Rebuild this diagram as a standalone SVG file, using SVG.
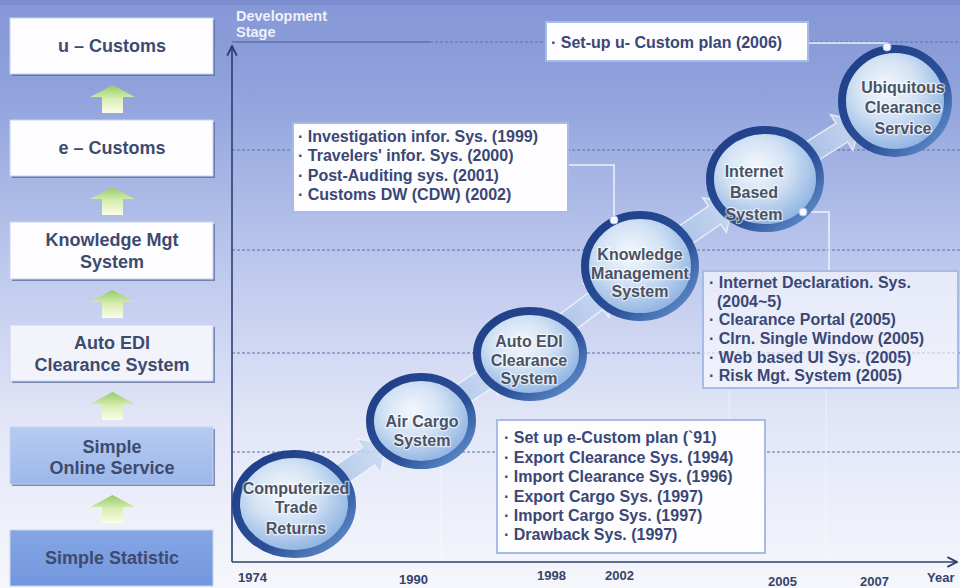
<svg xmlns="http://www.w3.org/2000/svg" width="960" height="588" viewBox="0 0 960 588">
<defs>
<linearGradient id="bg" x1="0" y1="0" x2="0" y2="1">
<stop offset="0" stop-color="#8597d5"/>
<stop offset="0.15" stop-color="#8fa2dc"/>
<stop offset="0.45" stop-color="#bdc8ed"/>
<stop offset="0.72" stop-color="#e2e6f7"/>
<stop offset="1" stop-color="#f6f7fc"/>
</linearGradient>
<radialGradient id="ball" cx="0.42" cy="0.38" r="0.65">
<stop offset="0" stop-color="#f4f8fe"/>
<stop offset="0.45" stop-color="#d2e2f4"/>
<stop offset="1" stop-color="#86ade0"/>
</radialGradient>
<linearGradient id="ring" x1="0" y1="0" x2="1" y2="1">
<stop offset="0" stop-color="#1f3c86"/>
<stop offset="0.6" stop-color="#2a4f98"/>
<stop offset="1" stop-color="#6a9ad4"/>
</linearGradient>
<linearGradient id="garrow" x1="0" y1="0" x2="0" y2="1">
<stop offset="0" stop-color="#94cb66"/>
<stop offset="0.5" stop-color="#d8eeb2"/>
<stop offset="1" stop-color="#fbfde8"/>
</linearGradient>
<linearGradient id="barrow" x1="0" y1="0" x2="1" y2="0">
<stop offset="0" stop-color="#a6c0e6"/>
<stop offset="1" stop-color="#cfdef3"/>
</linearGradient>
<linearGradient id="sos" x1="0" y1="0" x2="0" y2="1">
<stop offset="0" stop-color="#b6cbf2"/>
<stop offset="1" stop-color="#9cb7ea"/>
</linearGradient>
<linearGradient id="sst" x1="0" y1="0" x2="0" y2="1">
<stop offset="0" stop-color="#84a6e6"/>
<stop offset="1" stop-color="#7397dd"/>
</linearGradient>
<path id="big" d="M-38,-11 L14,-11 L14,-21 L36,0 L14,21 L14,11 L-38,11 Z"/>
<path id="up" d="M0,12 L22.5,0 L45,12 L33,12 L33,28 L12,28 L12,12 Z"/>
<marker id="ah" viewBox="0 0 10 10" refX="9" refY="5" markerWidth="12" markerHeight="12" markerUnits="userSpaceOnUse" orient="auto">
<path d="M1,1 L9,5 L1,9" fill="none" stroke="#2b3f70" stroke-width="1.6"/>
</marker>
</defs>
<style>
text{font-family:"Liberation Sans",Arial,sans-serif;font-weight:bold}
.lb{font-size:18px;fill:#3e4a6e;text-anchor:middle}
.ct{font-size:16px;fill:#3b4775}
.cir{font-size:16px;fill:#4a5264;text-anchor:middle;stroke:#ffffff;stroke-width:2.5px;stroke-opacity:0.6;paint-order:stroke}
.yr{font-size:13px;fill:#36436a}
.ax{font-size:14.5px;fill:#eef1fb}
.grid{stroke:#5e6ea6;stroke-width:1;stroke-dasharray:3 2;fill:none}
.box{fill:#fdfdff;stroke:#a7bbe6;stroke-width:2}
.lbox{stroke:#c9d3ef;stroke-width:1}
.shd{fill:#5a6a9a;opacity:0.75}
.conn{stroke:#eef2fb;stroke-width:1.5;fill:none}
.dot{fill:#f4f7fd;stroke:#b5c6ea;stroke-width:1}
.ball{fill:url(#ball);stroke:url(#ring);stroke-width:8}
.ba{fill:url(#barrow);stroke:#eef4fc;stroke-width:1.5;opacity:0.85}
.ga{fill:url(#garrow)}
.vl{stroke:#ffffff;stroke-opacity:0.3;stroke-width:1.5}
</style>

<rect x="0" y="0" width="960" height="588" fill="url(#bg)"/>
<rect x="0" y="0" width="960" height="5" fill="#7c8ecf"/>

<g id="grid">
<line class="vl" x1="441" y1="380" x2="441" y2="560"/>
<line class="vl" x1="729" y1="390" x2="729" y2="560"/>
<line class="vl" x1="826" y1="388" x2="826" y2="560"/>
<line x1="232" y1="42" x2="430" y2="42" stroke="#4a5a90" stroke-width="1"/>
<line class="grid" x1="430" y1="42" x2="960" y2="42"/>
<line class="grid" x1="232" y1="150" x2="960" y2="150"/>
<line class="grid" x1="232" y1="250" x2="960" y2="250"/>
<line class="grid" x1="232" y1="353" x2="960" y2="353"/>
<line class="grid" x1="232" y1="452" x2="960" y2="452"/>
</g>

<g id="axes">
<line x1="232" y1="562" x2="232" y2="46" stroke="#2b3f70" stroke-width="1.6" marker-end="url(#ah)"/>
<line x1="232" y1="562" x2="957" y2="562" stroke="#2b3f70" stroke-width="1.6" marker-end="url(#ah)"/>
<text class="ax" x="236" y="21">Development</text>
<text class="ax" x="236" y="37">Stage</text>
<text class="yr" x="238" y="582">1974</text>
<text class="yr" x="399" y="584">1990</text>
<text class="yr" x="537" y="580">1998</text>
<text class="yr" x="605" y="580">2002</text>
<text class="yr" x="768" y="586">2005</text>
<text class="yr" x="860" y="586">2007</text>
<text class="yr" x="927" y="582">Year</text>
</g>

<g id="connectors">
<use href="#big" class="ba" transform="translate(357,464) rotate(-34.6)"/>
<use href="#big" class="ba" transform="translate(475,386) rotate(-33)"/>
<use href="#big" class="ba" transform="translate(585,309) rotate(-37)"/>
<use href="#big" class="ba" transform="translate(703,223) rotate(-34.3)"/>
<use href="#big" class="ba" transform="translate(830,140) rotate(-32)"/>
<use href="#up" class="ga" transform="translate(90,85)"/>
<use href="#up" class="ga" transform="translate(90,187)"/>
<use href="#up" class="ga" transform="translate(90,290)"/>
<use href="#up" class="ga" transform="translate(90,392)"/>
<use href="#up" class="ga" transform="translate(90,495)"/>
<polyline class="conn" points="808,43 887,43 887,47"/>
<polyline class="conn" points="568,165 614,165 614,219"/>
<polyline class="conn" points="803,212 829,212 829,272"/>
</g>

<g id="n-ucustoms">
<rect class="shd" x="12" y="20" width="203" height="56"/>
<rect class="lbox" x="10" y="18" width="203" height="56" fill="#fdfdff"/>
<text class="lb" x="112" y="52">u – Customs</text>
</g>
<g id="n-ecustoms">
<rect class="shd" x="12" y="122" width="203" height="56"/>
<rect class="lbox" x="10" y="120" width="203" height="56" fill="#fdfdff"/>
<text class="lb" x="112" y="154">e – Customs</text>
</g>
<g id="n-kmgt">
<rect class="shd" x="12" y="224" width="203" height="57"/>
<rect class="lbox" x="10" y="222" width="203" height="57" fill="#fdfdff"/>
<text class="lb" x="112" y="246">Knowledge Mgt</text>
<text class="lb" x="112" y="268">System</text>
</g>
<g id="n-autoedi">
<rect class="shd" x="12" y="327" width="203" height="56"/>
<rect class="lbox" x="10" y="325" width="203" height="56" fill="#f3f4fb"/>
<text class="lb" x="112" y="349">Auto EDI</text>
<text class="lb" x="112" y="371">Clearance System</text>
</g>
<g id="n-online">
<rect class="shd" x="12" y="429" width="203" height="57"/>
<rect class="lbox" x="10" y="427" width="203" height="57" fill="url(#sos)"/>
<text class="lb" x="112" y="453">Simple</text>
<text class="lb" x="112" y="474">Online Service</text>
</g>
<g id="n-statistic">
<rect class="lbox" x="10" y="530" width="203" height="56" fill="url(#sst)"/>
<text class="lb" x="112" y="564">Simple Statistic</text>
</g>

<g id="c-ctr">
<ellipse class="ball" cx="294" cy="504" rx="58" ry="50"/>
<text class="cir" x="296" y="494">Computerized</text>
<text class="cir" x="296" y="513">Trade</text>
<text class="cir" x="296" y="534">Returns</text>
</g>
<g id="c-aircargo">
<ellipse class="ball" cx="421" cy="421" rx="51" ry="44"/>
<text class="cir" x="422" y="427">Air Cargo</text>
<text class="cir" x="422" y="446">System</text>
</g>
<g id="c-autoedi">
<ellipse class="ball" cx="530" cy="354" rx="53" ry="43"/>
<text class="cir" x="529" y="347">Auto EDI</text>
<text class="cir" x="529" y="366">Clearance</text>
<text class="cir" x="529" y="384">System</text>
</g>
<g id="c-kms">
<ellipse class="ball" cx="640" cy="266" rx="55" ry="51"/>
<text class="cir" x="640" y="260">Knowledge</text>
<text class="cir" x="640" y="279">Management</text>
<text class="cir" x="640" y="297">System</text>
</g>
<g id="c-internet">
<ellipse class="ball" cx="765" cy="179" rx="55" ry="49"/>
<text class="cir" x="754" y="177">Internet</text>
<text class="cir" x="754" y="198">Based</text>
<text class="cir" x="754" y="220">System</text>
</g>
<g id="c-ubiq">
<ellipse class="ball" cx="895" cy="101" rx="53" ry="52"/>
<text class="cir" x="903" y="93">Ubiquitous</text>
<text class="cir" x="903" y="113">Clearance</text>
<text class="cir" x="903" y="134">Service</text>
</g>

<g id="b-ucustom">
<rect class="box" x="546" y="22" width="262" height="39"/>
<text class="ct" x="551" y="48">· Set-up u- Custom plan (2006)</text>
<circle class="dot" cx="887" cy="47" r="4"/>
</g>
<g id="b-kms">
<rect class="box" x="293" y="123" width="275" height="89"/>
<text class="ct" x="298" y="142">· Investigation infor. Sys. (1999)</text>
<text class="ct" x="298" y="161">· Travelers' infor. Sys.  (2000)</text>
<text class="ct" x="298" y="181">· Post-Auditing sys. (2001)</text>
<text class="ct" x="298" y="200">· Customs DW (CDW) (2002)</text>
<circle class="dot" cx="614" cy="220" r="4"/>
</g>
<g id="b-internet">
<rect class="box" x="703" y="271" width="255" height="117" fill-opacity="0.62"/>
<text class="ct" x="709" y="288">· Internet Declaration. Sys.</text>
<text class="ct" x="717" y="307">(2004~5)</text>
<text class="ct" x="709" y="325">· Clearance Portal (2005)</text>
<text class="ct" x="709" y="344">· Clrn. Single Window (2005)</text>
<text class="ct" x="709" y="363">· Web based UI Sys. (2005)</text>
<text class="ct" x="709" y="381">· Risk Mgt. System (2005)</text>
<circle class="dot" cx="803" cy="212" r="4"/>
</g>
<g id="b-autoedi">
<rect class="box" x="497" y="420" width="268" height="133"/>
<text class="ct" x="504" y="443">· Set up e-Custom plan (`91)</text>
<text class="ct" x="504" y="463">· Export Clearance Sys. (1994)</text>
<text class="ct" x="504" y="482">· Import Clearance Sys. (1996)</text>
<text class="ct" x="504" y="502">· Export Cargo Sys. (1997)</text>
<text class="ct" x="504" y="521">· Import Cargo Sys. (1997)</text>
<text class="ct" x="504" y="540">· Drawback Sys. (1997)</text>
</g>
</svg>
